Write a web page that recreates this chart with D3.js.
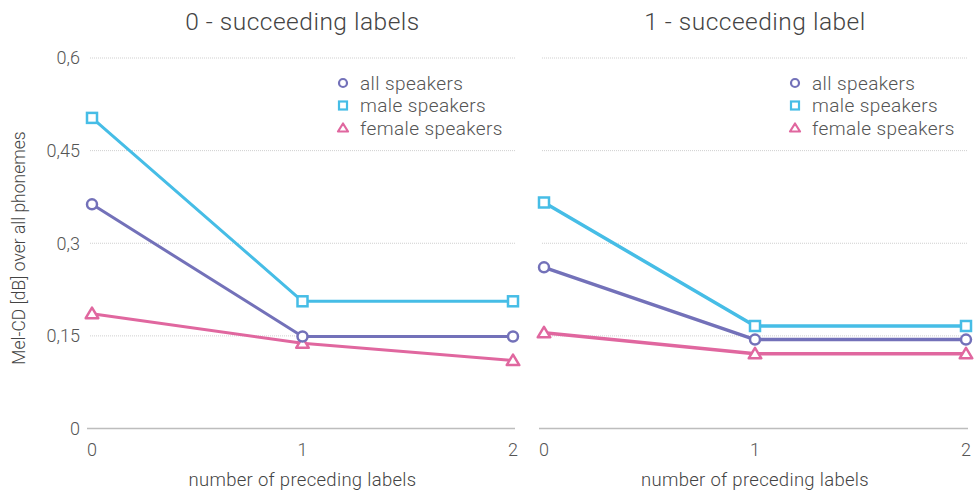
<!DOCTYPE html>
<html>
<head>
<meta charset="utf-8">
<script src="https://cdn.jsdelivr.net/npm/d3@7"></script>
<style>
  html, body { margin: 0; padding: 0; background: #fff; }
  svg { display: block; font-family: Roboto, "Liberation Sans", Arial, sans-serif; font-weight: 300; }
</style>
</head>
<body>
<svg id="chart" width="975" height="491"></svg>
<script>
// Mel-CD per number of preceding labels, one panel per succeeding-label setting
const panelTitles = ["0 - succeeding labels", "1 - succeeding label"];
const precedingLabels = [0, 1, 2];
const yTicks = [0, 0.15, 0.3, 0.45, 0.6];
const seriesNames = ["all speakers", "male speakers", "female speakers"];

const allSpeakers0 = [0.363, 0.149, 0.149];
const maleSpeakers0 = [0.503, 0.206, 0.206];
const femaleSpeakers0 = [0.186, 0.138, 0.110];

const allSpeakers1 = [0.261, 0.144, 0.144];
const maleSpeakers1 = [0.366, 0.166, 0.166];
const femaleSpeakers1 = [0.155, 0.121, 0.121];

const colors = { "all speakers": "#7371b9", "male speakers": "#46bde6", "female speakers": "#e0679f" };
const shapes = { "all speakers": "circle", "male speakers": "square", "female speakers": "triangle" };

const panels = [
  { title: panelTitles[0], series: [allSpeakers0, maleSpeakers0, femaleSpeakers0], x0: 92, x1: 513, showY: true, lw: 3 },
  { title: panelTitles[1], series: [allSpeakers1, maleSpeakers1, femaleSpeakers1], x0: 544, x1: 966, showY: false, lw: 3.5 }
];

const svg = d3.select("#chart");
const y = d3.scaleLinear().domain([0, 0.6]).range([428.5, 58]);
const fmt = v => v === 0 ? "0" : String(v).replace(".", ",");

function marker(g, shape, cx, cy, color) {
  if (shape === "circle") {
    g.append("circle").attr("cx", cx).attr("cy", cy).attr("r", 5)
      .attr("fill", "#fff").attr("stroke", color).attr("stroke-width", 2.5);
  } else if (shape === "square") {
    g.append("rect").attr("x", cx - 5).attr("y", cy - 5).attr("width", 10).attr("height", 10)
      .attr("fill", "#fff").attr("stroke", color).attr("stroke-width", 2.5);
  } else {
    const s = 6;
    g.append("path")
      .attr("d", `M${cx},${cy - s}L${cx + s * 1.05},${cy + s * 0.75}L${cx - s * 1.05},${cy + s * 0.75}Z`)
      .attr("fill", "#fff").attr("stroke", color).attr("stroke-width", 2.5).attr("stroke-linejoin", "round");
  }
}

panels.forEach(p => {
  const x = d3.scaleLinear().domain([0, 2]).range([p.x0, p.x1]);
  const g = svg.append("g");

  // gridlines
  g.selectAll("line.grid").data(yTicks.filter(d => d > 0)).join("line")
    .attr("x1", p.x0 - 2).attr("x2", p.x1 + 2)
    .attr("y1", d => y(d)).attr("y2", d => y(d))
    .attr("stroke", "#cfcfcf").attr("stroke-width", 1).attr("stroke-dasharray", "1,1");

  // baseline
  g.append("line").attr("x1", p.x0 - 5).attr("x2", p.x1 + 2)
    .attr("y1", y(0)).attr("y2", y(0)).attr("stroke", "#bdbdbd").attr("stroke-width", 1.5);

  // y tick labels
  if (p.showY) {
    g.selectAll("text.yt").data(yTicks).join("text")
      .attr("x", 80).attr("y", d => y(d)).attr("dy", "0.35em")
      .attr("text-anchor", "end").attr("font-size", 18).attr("fill", "#555")
      .text(fmt);
  }

  // x tick labels
  g.selectAll("text.xt").data(precedingLabels).join("text")
    .attr("x", d => x(d)).attr("y", 456)
    .attr("text-anchor", "middle").attr("font-size", 18).attr("fill", "#555")
    .text(d => d);

  // titles
  g.append("text").attr("x", (p.x0 + p.x1) / 2).attr("y", 30)
    .attr("text-anchor", "middle").attr("font-size", 24.5).attr("letter-spacing", 0.5)
    .attr("fill", "#444").text(p.title);
  g.append("text").attr("x", (p.x0 + p.x1) / 2).attr("y", 486)
    .attr("text-anchor", "middle").attr("font-size", 18.5).attr("letter-spacing", 0.3)
    .attr("fill", "#444").text("number of preceding labels");

  // lines and markers
  const line = d3.line().x((d, i) => x(precedingLabels[i])).y(d => y(d));
  const order = [2, 0, 1];
  order.forEach(si => {
    const name = seriesNames[si];
    g.append("path").datum(p.series[si]).attr("d", line)
      .attr("fill", "none").attr("stroke", colors[name]).attr("stroke-width", p.lw)
      .attr("stroke-linejoin", "round");
  });
  order.forEach(si => {
    const name = seriesNames[si];
    p.series[si].forEach((v, i) => marker(g, shapes[name], x(precedingLabels[i]), y(v), colors[name]));
  });

  // legend
  const lx = p.showY ? 343 : 795;
  seriesNames.forEach((name, i) => {
    const ly = 83 + i * 22.5;
    const lg = g.append("g");
    if (shapes[name] === "circle") {
      lg.append("circle").attr("cx", lx).attr("cy", ly).attr("r", 4)
        .attr("fill", "#fff").attr("stroke", colors[name]).attr("stroke-width", 2.2);
    } else if (shapes[name] === "square") {
      lg.append("rect").attr("x", lx - 4).attr("y", ly - 4).attr("width", 8).attr("height", 8)
        .attr("fill", "#fff").attr("stroke", colors[name]).attr("stroke-width", 2.2);
    } else {
      lg.append("path").attr("d", `M${lx},${ly - 4.5}L${lx + 5},${ly + 3.5}L${lx - 5},${ly + 3.5}Z`)
        .attr("fill", "#fff").attr("stroke", colors[name]).attr("stroke-width", 2.2).attr("stroke-linejoin", "round");
    }
    lg.append("text").attr("x", lx + 17).attr("y", ly).attr("dy", "0.35em")
      .attr("font-size", 19).attr("letter-spacing", 0.4).attr("fill", "#555").text(name);
  });
});

// y-axis title
svg.append("text")
  .attr("transform", "translate(25,248) rotate(-90)")
  .attr("text-anchor", "middle").attr("font-size", 17.5).attr("fill", "#444")
  .text("Mel-CD [dB] over all phonemes");
</script>
</body>
</html>
